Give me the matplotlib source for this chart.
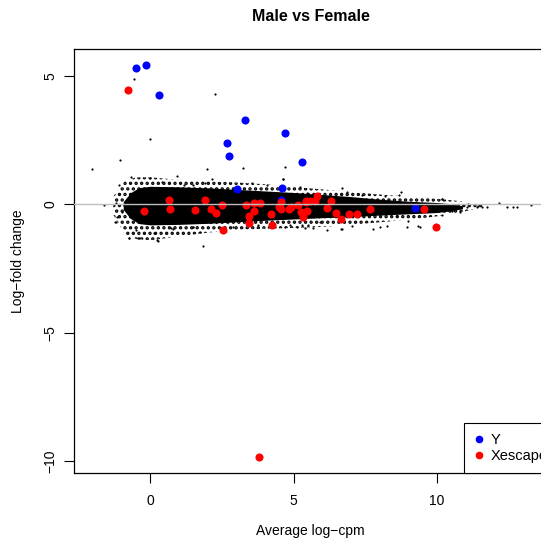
import matplotlib
matplotlib.use("Agg")
import matplotlib.pyplot as plt
from matplotlib.lines import Line2D

plt.rcParams['font.family'] = ['Liberation Sans', 'DejaVu Sans']
plt.rcParams['hatch.linewidth'] = 1.6

# highlighted genes (Average log-cpm, log-fold change)
y_x = [-0.49, -0.16, 0.30, 3.29, 2.67, 2.74, 4.70, 5.29, 3.01, 4.58, 4.56, 9.24]
y_y = [5.31, 5.42, 4.26, 3.28, 2.40, 1.89, 2.79, 1.66, 0.61, 0.65, 0.17, -0.16]

xe_x = [-0.77, 3.79, 0.66, -0.22, 0.68, 1.92, 1.56, 2.10, 2.29, 2.50, 2.52, 3.33, 3.62,
        3.83, 3.61, 3.45, 3.45, 4.22, 4.26, 4.50, 4.57, 4.55, 4.83, 4.91, 5.16, 5.44,
        5.48, 5.26, 5.34, 5.81, 5.43, 5.57, 5.75, 6.30, 6.18, 6.48, 6.92, 7.22, 6.64,
        7.67, 9.56, 9.96]
xe_y = [4.45, -9.83, 0.17, -0.25, -0.18, 0.18, -0.22, -0.18, -0.33, -0.01, -0.99, -0.01, 0.06,
        0.04, -0.25, -0.46, -0.71, -0.37, -0.79, -0.12, 0.08, -0.19, -0.17, -0.09, -0.04, 0.09,
        -0.25, -0.31, -0.48, 0.34, 0.12, 0.12, 0.13, 0.14, -0.13, -0.33, -0.37, -0.38, -0.56,
        -0.18, -0.17, -0.87]

# dense bulk of the other genes: solid core and speckled fringe
core_x = [-0.95, -0.7, -0.4, 0.0, 1.0, 2.0, 3.0, 4.0, 5.0, 6.0, 7.0, 8.0, 9.0, 10.0, 10.5, 10.9]
core_hi = [0.1, 0.45, 0.65, 0.7, 0.68, 0.64, 0.58, 0.52, 0.46, 0.38, 0.3, 0.2, 0.12, 0.07, 0.02, -0.06]
core_lo = [-0.2, -0.55, -0.75, -0.8, -0.78, -0.74, -0.68, -0.62, -0.57, -0.52, -0.48, -0.42, -0.37, -0.32, -0.25, -0.17]

fringe_x = [-1.3, -0.9, -0.5, 0.0, 1.0, 2.0, 3.0, 4.0, 5.0, 6.0, 7.0, 8.0, 9.0, 10.0, 11.0, 11.6]
fringe_hi = [0.3, 0.9, 1.05, 1.05, 0.95, 0.9, 0.85, 0.78, 0.68, 0.58, 0.48, 0.38, 0.3, 0.22, 0.1, 0.0]
fringe_lo = [-0.4, -1.15, -1.35, -1.4, -1.25, -1.1, -1.0, -0.95, -0.92, -0.88, -0.8, -0.7, -0.6, -0.47, -0.27, -0.12]

# scattered genes outside the bulk
sp_x = [-0.56, 2.26, -0.03, -1.05, -2.05, 1.97, 3.23, 4.70, -1.61, 0.94, -0.68, 4.64,
        1.85, 0.28, -0.74, -0.40, -1.20, -1.18, 0.78, 1.50, 4.70, 5.28, 6.68, 8.75, 8.68,
        10.18, 12.17, 13.28, 12.67, 12.44, 11.57, 11.45, 11.10, 10.93, 8.98, 8.95, 9.35,
        8.02, 7.78, 6.68, 6.16, 5.69, 8.25, 8.60, 10.81, 10.52, 10.23, -1.10, -1.21, -1.24,
        -0.75, -0.42, 0.24, 0.13, -0.01, 0.42, -0.98, -0.51, 1.17, 0.71, 2.14, 1.91, 3.54,
        4.64, 1.50, 1.73, 1.50, 2.89, 3.77, 4.87, 5.11, 5.51, 4.06, 5.22, 6.85, 7.38, 8.19,
        5.46, 5.92, 6.65, 7.03, 5.40, 10.17, 11.39, 11.74, 11.04, 9.41, 10.17, 12.81]
sp_y = [4.87, 4.30, 2.55, 1.73, 1.38, 1.38, 1.42, 1.45, -0.04, 1.10, 1.07, 0.98,
        -1.62, -1.41, -1.30, -1.30, -0.69, -0.48, -0.96, -0.87, -0.87, -0.82, 0.65, 0.49, 0.35,
        0.22, 0.06, -0.01, -0.09, -0.09, -0.10, -0.08, 0.0, -0.03, -0.65, -0.87, -0.86,
        -0.89, -0.97, -0.96, -1.0, -0.93, -0.84, -0.46, -0.29, -0.25, -0.22, 0.75, 0.04, -0.68,
        -1.32, -1.32, -1.39, -1.13, 1.01, 0.88, -0.29, -1.0, 0.75, -0.93, 0.97, 0.82, 0.82,
        0.97, 0.75, -1.06, -0.87, -0.87, -0.81, -0.81, -0.87, -0.81, 0.75, 0.68, 0.49, 0.36, 0.32,
        0.43, -0.68, -0.97, -0.84, -0.93, 0.19, -0.09, -0.12, -0.12, -0.87, -0.42, -0.09]

x_ticks = [0, 5, 10]
y_ticks = [-10, -5, 0, 5]

fig = plt.figure(figsize=(5.41, 5.43), dpi=100)
ax = fig.add_axes([74 / 541, 1 - 473.3 / 543, (547 - 74) / 541, (473.3 - 49) / 543])

ax.fill_between(fringe_x, fringe_lo, fringe_hi, facecolor='none', edgecolor='black',
                hatch='...', linewidth=0, zorder=1)
ax.fill_between(core_x, core_lo, core_hi, color='black', linewidth=0, zorder=2)
ax.scatter(sp_x, sp_y, s=2.5, color='black', linewidths=0, zorder=2)

ax.scatter(y_x, y_y, s=34, color='#0000FF', linewidths=0, zorder=3)
ax.scatter(xe_x, xe_y, s=34, color='#FF0000', linewidths=0, zorder=4)
ax.axhline(0, color='#BEBEBE', linewidth=1, zorder=5)

ax.set_xlim(-2.67, 13.85)
ax.set_ylim(-10.46, 6.04)
ax.set_xticks(x_ticks)
ax.set_yticks(y_ticks)
ax.tick_params(length=7, width=0.8, labelsize=10, pad=8)
ax.tick_params(axis='y', pad=5)
for lab in ax.get_yticklabels():
    lab.set_rotation(90)
    lab.set_va('center')
for sp in ax.spines.values():
    sp.set_linewidth(0.9)

ax.set_xlabel('Average log\u2212cpm', fontsize=10)
ax.set_ylabel('Log\u2212fold change', fontsize=10)
ax.xaxis.set_label_coords((310.5 - 74) / 473, (473.3 - 531.5) / 424.3)
ax.yaxis.set_label_coords((18 - 74) / 473, (473.3 - 261) / 424.3)
ax.xaxis.label.set_va('center')
ax.yaxis.label.set_va('center')
ax.set_title('Male vs Female', fontsize=11.5, fontweight='bold', pad=20)

handles = [Line2D([], [], marker='o', linestyle='none', color='#0000FF', markersize=4.5),
           Line2D([], [], marker='o', linestyle='none', color='#FF0000', markersize=4.5)]
leg = ax.legend(handles, ['Y', 'Xescape'], loc='lower left',
                bbox_to_anchor=((464 - 74) / 473, 0), borderaxespad=0,
                fancybox=False, framealpha=1, edgecolor='black', fontsize=10.5,
                handlelength=0.6, handletextpad=0.5, borderpad=0.7, labelspacing=0.15)
leg.get_frame().set_linewidth(0.8)

fig.savefig('out.png', dpi=100)
